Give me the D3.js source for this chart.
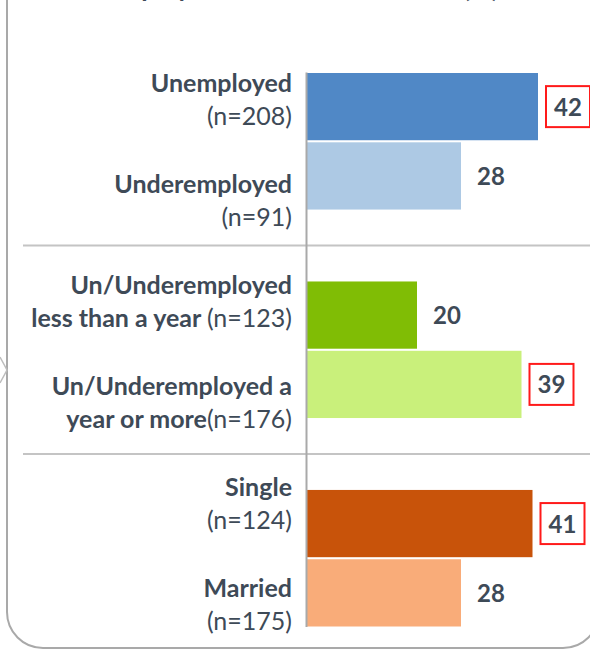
<!DOCTYPE html>
<html>
<head>
<meta charset="utf-8">
<script src="https://cdn.jsdelivr.net/npm/d3@7"></script>
<style>
  html, body { margin: 0; padding: 0; background: #ffffff; }
  svg { display: block; }
  text { font-family: Lato, "Open Sans", sans-serif; }
</style>
</head>
<body>
<script>
// ---- data ----
const categories = ["Unemployed", "Underemployed", "Un/Underemployed less than a year",
  "Un/Underemployed a year or more", "Single", "Married"];
const groups = ["Status", "Duration", "Marital"];
const categoryGroup = ["Status", "Status", "Duration", "Duration", "Marital", "Marital"];
const values = [42, 28, 20, 39, 41, 28];
const sampleSizes = [208, 91, 123, 176, 124, 175];
const labelLines = [["Unemployed"], ["Underemployed"], ["Un/Underemployed", "less than a year "],
  ["Un/Underemployed a", "year or more"], ["Single"], ["Married"]];
const highlighted = [true, false, false, true, true, false];
const titleText = "Unemployed Who Are Distressed (%)";

// ---- styles ----
const barColors = ["#5088c6", "#adc9e4", "#80bd05", "#c9f07b", "#c8530a", "#f9ac79"];
const textColor = "#3e4a57";

const W = 590, H = 650;
const svg = d3.select("body").append("svg").attr("width", W).attr("height", H);

// frame
svg.append("rect")
  .attr("x", 7).attr("y", -60).attr("width", 592).attr("height", 708)
  .attr("rx", 36).attr("ry", 36)
  .attr("fill", "none").attr("stroke", "#a9a9a9").attr("stroke-width", 2);

// chevron from neighbouring panel
svg.append("path")
  .attr("d", d3.line()([[0, 357], [7, 370], [0, 383]]))
  .attr("fill", "none").attr("stroke", "#bdbdbd").attr("stroke-width", 1.5);

// title (mostly outside the visible area, as in the reference)
svg.append("text")
  .attr("x", 72).attr("y", -3)
  .attr("font-size", 26).attr("font-weight", 700).attr("fill", textColor)
  .text(titleText);

// scales
const x = d3.scaleLinear().domain([0, 50]).range([307, 582]);
const yGroup = d3.scaleBand().domain(groups).range([73, 626.5]).paddingInner(0.345).paddingOuter(0);
const yInner = d3.scaleBand().domain([0, 1]).range([0, yGroup.bandwidth()]).paddingInner(0.03);
const yLabel = d3.scalePoint().domain(categories).range([108.5, 613.5]);

const rows = categories.map((c, i) => ({
  cat: c, value: values[i], n: sampleSizes[i], lines: labelLines[i],
  hl: highlighted[i], color: barColors[i], group: categoryGroup[i],
  idx: categoryGroup.slice(0, i).filter(g => g === categoryGroup[i]).length
}));
const barY = d => yGroup(d.group) + yInner(d.idx);
const barH = yInner.bandwidth();

// group separators
const sepYs = groups.slice(1).map((g, i) => {
  const prevEnd = yGroup(groups[i]) + yGroup.bandwidth();
  return (prevEnd + yGroup(g)) / 2;
});
svg.selectAll("line.sep").data(sepYs).join("line")
  .attr("class", "sep")
  .attr("x1", 23).attr("x2", W).attr("y1", d => d).attr("y2", d => d)
  .attr("stroke", "#c4c4c4").attr("stroke-width", 2);

// bars
svg.selectAll("rect.bar").data(rows).join("rect")
  .attr("class", "bar")
  .attr("x", x(0)).attr("y", barY)
  .attr("width", d => x(d.value) - x(0)).attr("height", barH)
  .attr("fill", d => d.color);

// axis line
const axis = d3.axisLeft(d3.scaleLinear().range([yGroup.range()[0] - 1, yGroup.range()[1]])).ticks(0).tickSize(0).tickFormat("");
svg.append("g").attr("transform", `translate(${x(0) - 1},0)`).call(axis)
  .select(".domain").attr("stroke", "#a9a9a9").attr("stroke-width", 2);

// highlight boxes
const boxW = 44, boxH = 41;
svg.selectAll("rect.hl").data(rows.filter(d => d.hl)).join("rect")
  .attr("class", "hl")
  .attr("x", d => x(d.value) + 30 - boxW / 2)
  .attr("y", d => barY(d) + barH / 2 - boxH / 2)
  .attr("width", boxW).attr("height", boxH)
  .attr("fill", "#ffffff").attr("stroke", "#ff1a1a").attr("stroke-width", 2);

// value labels
svg.selectAll("text.val").data(rows).join("text")
  .attr("class", "val")
  .attr("x", d => x(d.value) + 30)
  .attr("y", d => barY(d) + barH / 2 + 9)
  .attr("text-anchor", "middle")
  .attr("font-size", 24).attr("font-weight", 700).attr("fill", textColor)
  .text(d => d.value);

// category labels
const lineGap = 33;
rows.forEach(d => {
  const mid = yLabel(d.cat);
  const lines = d.lines.length === 1
    ? [[[d.lines[0], true]], [[`(n=${d.n})`, false]]]
    : [[[d.lines[0], true]], [[d.lines[1], true], [`(n=${d.n})`, false]]];
  lines.forEach((segs, li) => {
    const t = svg.append("text")
      .attr("x", 292).attr("y", mid - lineGap / 2 + li * lineGap)
      .attr("text-anchor", "end").attr("font-size", 25).attr("fill", textColor);
    segs.forEach(([s, bold]) => {
      t.append("tspan").attr("font-weight", bold ? 700 : 400).text(s);
    });
  });
});
</script>
</body>
</html>
